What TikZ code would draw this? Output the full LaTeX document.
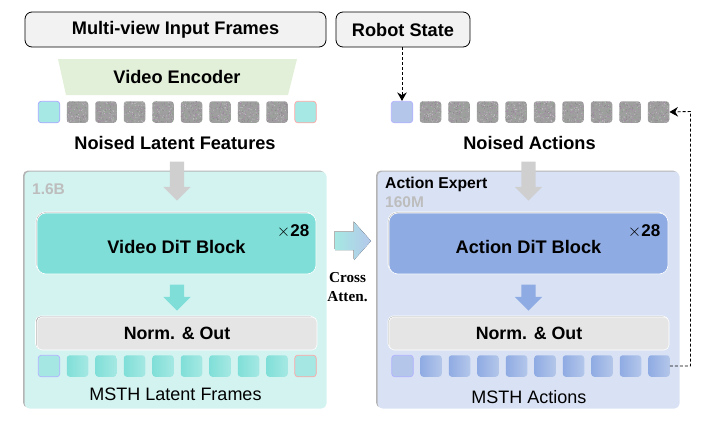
\documentclass[tikz,border=0pt]{standalone}
\usepackage{fontspec}
\setmainfont{Liberation Sans}
\newfontfamily\serifbold{Liberation Serif}
\usetikzlibrary{calc,shapes.geometric,shapes.arrows,arrows.meta}

\definecolor{boxgray}{HTML}{F2F2F2}
\definecolor{encgreen}{HTML}{E3F0D9}
\definecolor{tealpanel}{HTML}{D3F3F1}
\definecolor{bluepanel}{HTML}{D9E2F5}
\definecolor{tealblock}{HTML}{7FDFD8}
\definecolor{blueblock}{HTML}{8FABE3}
\definecolor{tealtoken}{HTML}{A6E8E3}
\definecolor{bluetoken}{HTML}{B4C7EA}
\definecolor{normgray}{HTML}{E5E5E5}
\definecolor{arrowgray}{HTML}{CFCFCF}
\definecolor{labelgray}{HTML}{BDBDBD}
\definecolor{shadowgray}{HTML}{B4B4B4}
\definecolor{noisea}{HTML}{C4BFC6}
\definecolor{noiseb}{HTML}{8B878B}
\definecolor{noisec}{HTML}{A688A8}
\definecolor{noised}{HTML}{93A893}

\tikzset{
  inputbox/.style={draw=black,line width=0.8pt,fill=boxgray,rounded corners=7pt,
    minimum height=35pt,font=\bfseries\fontsize{18.2}{20}\selectfont},
  token/.style={rounded corners=3pt,minimum width=21.5pt,minimum height=21.5pt,inner sep=0pt},
  noisetoken/.style={token,fill=gray!75,path picture={
    \foreach \i in {1,...,170}{
      \pgfmathsetmacro{\dx}{10.5*rand}
      \pgfmathsetmacro{\dy}{10.5*rand}
      \pgfmathsetmacro{\mixa}{int(random(0,3))}
      \ifcase\mixa\relax
        \fill[noisea] ($(path picture bounding box.center)+(\dx pt,\dy pt)$) circle (0.5pt);
      \or
        \fill[noiseb] ($(path picture bounding box.center)+(\dx pt,\dy pt)$) circle (0.5pt);
      \or
        \fill[noisec] ($(path picture bounding box.center)+(\dx pt,\dy pt)$) circle (0.5pt);
      \or
        \fill[noised] ($(path picture bounding box.center)+(\dx pt,\dy pt)$) circle (0.5pt);
      \fi
    }}},
  panel/.style={rounded corners=5pt,minimum width=302pt,minimum height=237pt,inner sep=0pt},
  block/.style={draw=white,line width=0.6pt,rounded corners=9pt,minimum width=279pt,minimum height=61pt,inner sep=0pt},
  normbox/.style={draw=white,line width=0.6pt,fill=normgray,rounded corners=5pt,minimum width=280pt,minimum height=33pt,
    font=\bfseries\fontsize{17.8}{20}\selectfont},
  blockarrow/.style={single arrow,rotate=-90,inner sep=0pt,single arrow head extend=6.5pt,
    single arrow tip angle=90,text height=14pt,text depth=0pt,text width=0pt},
  title/.style={font=\bfseries\fontsize{18.2}{20}\selectfont},
  dashline/.style={densely dashed,line width=0.9pt,-{Stealth[length=8.5pt,width=9.5pt]}},
}

\begin{document}
\begin{tikzpicture}[x=1pt,y=-1pt]
    \useasboundingbox (0,0) rectangle (718,432);
    \pgfmathsetseed{42}

    % Inputs
    \node[inputbox,minimum width=301pt] (frames) at (175.5,29.5) {Multi-view Input Frames};
    \node[inputbox,minimum width=134pt] (robot) at (403,29.5) {Robot State};

    % Encoder
    \fill[encgreen] (58,59) -- (297,59) -- (288,95) -- (66,95) -- cycle;
    \node[title] (encoder) at (177,77) {Video Encoder};

    % Panels
    \node[panel,fill=shadowgray] at (174,289) {};
    \node[panel,fill=tealpanel] (leftpanel) at (175.5,290) {};
    \node[panel,fill=shadowgray] at (527,289) {};
    \node[panel,fill=bluepanel] (rightpanel) at (528.5,290) {};

    % Noised tokens
    \node[token,fill=tealtoken,draw=blue!35!white,line width=0.7pt] (la0) at (49,112) {};
    \foreach \n in {1,...,8}
      \node[noisetoken] (la\n) at (49+28.5*\n,112) {};
    \node[token,fill=tealtoken,draw=red!35!white,line width=0.7pt] (la9) at (305.5,112) {};

    \node[token,fill=bluetoken,draw=blue!30!white,line width=0.7pt] (ra0) at (402,112) {};
    \foreach \n in {1,...,9}
      \node[noisetoken] (ra\n) at (402+28.5*\n,112) {};

    \node[title] (noisedl) at (175,143) {Noised Latent Features};
    \node[title] (noisedr) at (529.5,143) {Noised Actions};

    % Grey arrows
    \node[blockarrow,fill=arrowgray,minimum height=39pt] (inl) at (177,177.5) {};
    \node[blockarrow,fill=arrowgray,minimum height=39pt] (inr) at (528.5,177.5) {};

    % Panel labels
    \node[anchor=west,inner sep=0pt,text=labelgray,font=\bfseries\fontsize{15.5}{17}\selectfont] (sizel) at (32,189) {1.6B};
    \node[anchor=west,inner sep=0pt,font=\bfseries\fontsize{15.7}{17}\selectfont] (expert) at (385,184) {Action Expert};
    \node[anchor=west,inner sep=0pt,text=labelgray,font=\bfseries\fontsize{15.5}{17}\selectfont] (sizer) at (385,202.5) {160M};

    % DiT blocks
    \node[block,fill=shadowgray] at (175.5,242.5) {};
    \node[block,fill=tealblock] (vblock) at (176.5,243.5) {};
    \node[block,fill=shadowgray] at (527.5,242.5) {};
    \node[block,fill=blueblock] (ablock) at (528.5,243.5) {};
    \node[title] (vtext) at (176.5,247) {Video DiT Block};
    \node[title] (atext) at (528.5,247) {Action DiT Block};
    \node[anchor=east,inner sep=0pt] (vtimes) at (309.5,231.5) {\fontsize{17}{19}\selectfont$\times$\bfseries 28};
    \node[anchor=east,inner sep=0pt] (atimes) at (660.5,231.5) {\fontsize{17}{19}\selectfont$\times$\bfseries 28};

    % Small arrows
    \node[blockarrow,fill=tealblock,minimum height=26pt] (outl) at (177,294) {};
    \node[blockarrow,fill=blueblock,minimum height=26pt] (outr) at (528.5,294) {};

    % Cross attention
    \fill[shadowgray,xshift=-0.8pt,yshift=0.8pt]
      (335,232) -- (354,232) -- (354,222) -- (371,241) -- (354,260) -- (354,250) -- (335,250) -- cycle;
    \fill[left color=tealtoken,right color=bluetoken]
      (335,232) -- (354,232) -- (354,222) -- (371,241) -- (354,260) -- (354,250) -- (335,250) -- cycle;
    \node[inner sep=0pt,align=center,font=\serifbold\bfseries\fontsize{15.2}{19}\selectfont] (cross) at (347.5,287.5) {Cross\\Atten.};

    % Norm
    \node[normbox,fill=shadowgray] at (175.5,332.5) {};
    \node[normbox] (vnorm) at (177,333.5) {Norm. \& Out};
    \node[normbox,fill=shadowgray] at (528,332.5) {};
    \node[normbox] (anorm) at (529,333.5) {Norm. \& Out};

    % Output tokens
    \node[token,fill=tealblock!55!tealpanel,draw=blue!30!white,line width=0.7pt] (lo0) at (49,366) {};
    \foreach \n in {1,...,8}
      \node[token,left color=tealblock,right color=tealtoken] (lo\n) at (49+28.5*\n,366) {};
    \node[token,fill=tealblock!55!tealpanel,draw=red!35!white,line width=0.7pt] (lo9) at (305.5,366) {};

    \node[token,fill=bluetoken,draw=blue!30!white,line width=0.7pt] (ro0) at (402.5,366) {};
    \foreach \n in {1,...,9}
      \node[token,left color=blueblock,right color=bluetoken] (ro\n) at (402.5+28.5*\n,366) {};

    \node[font=\fontsize{18}{20}\selectfont] (msthl) at (175.5,394) {MSTH Latent Frames};
    \node[font=\fontsize{18}{20}\selectfont] (msthr) at (529,397) {MSTH Actions};

    % Dashed connectors
    \draw[dashline] (robot.south -| ra0) -- (ra0.north);
    \coordinate (turn1) at (690.5,366);
    \coordinate (turn2) at (690.5,111.5);
    \draw[dashline] (ro9.east) -- (turn1) -- (turn2) -- (ra9.east);
\end{tikzpicture}
\end{document}
